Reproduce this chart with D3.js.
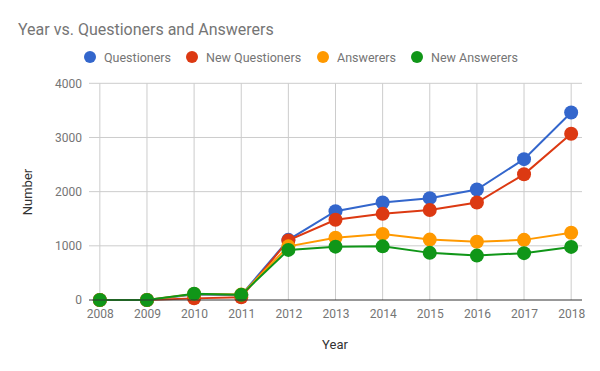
<!DOCTYPE html>
<html><head><meta charset="utf-8">
<script src="https://cdn.jsdelivr.net/npm/d3@7"></script>
<style>body{margin:0;background:#fff;font-family:Roboto,Arial,sans-serif;}</style>
</head><body><svg id="c" width="600" height="371"></svg>
<script>
const years = [2008,2009,2010,2011,2012,2013,2014,2015,2016,2017,2018];
const questioners = [0,0,100,90,1110,1640,1800,1880,2040,2600,3460];
const newQuestioners = [0,0,30,50,1100,1480,1590,1660,1800,2320,3070];
const answerers = [0,0,110,100,990,1150,1220,1115,1075,1110,1240];
const newAnswerers = [0,0,115,95,925,985,990,870,820,865,980];
const seriesNames = ["Questioners","New Questioners","Answerers","New Answerers"];
const seriesColors = ["#3366cc","#dc3912","#ff9900","#109618"];
const yTicks = [0,1000,2000,3000,4000];

const series = [questioners,newQuestioners,answerers,newAnswerers];
const svg = d3.select("#c");
const L=89,R=582,T=83.3,B=300;
const x = d3.scaleLinear().domain([2007.77,2018.23]).range([L,R]);
const y = d3.scaleLinear().domain([0,4000]).range([B,T]);

svg.append("text").attr("x",18).attr("y",35).attr("font-size",16).attr("fill","#757575").text("Year vs. Questioners and Answerers");

// legend
const legX=[90,192,323,417];
seriesNames.forEach((n,i)=>{
  svg.append("circle").attr("cx",legX[i]).attr("cy",57).attr("r",6).attr("fill",seriesColors[i]);
  svg.append("text").attr("x",legX[i]+14).attr("y",61.5).attr("font-size",12.5).attr("fill","#757575").text(n);
});

// grid
const g = svg.append("g");
g.selectAll(".hg").data(yTicks.slice(1)).enter().append("line")
 .attr("x1",L).attr("x2",R).attr("y1",d=>y(d)).attr("y2",d=>y(d)).attr("stroke","#cccccc");
g.selectAll(".vg").data(years).enter().append("line")
 .attr("x1",d=>x(d)).attr("x2",d=>x(d)).attr("y1",T).attr("y2",B).attr("stroke","#cccccc");

// y axis labels
const ya = svg.append("g").attr("transform",`translate(${L},0)`).call(d3.axisLeft(y).tickValues(yTicks).tickFormat(d3.format("d")).tickSize(0).tickPadding(7));
ya.select(".domain").remove();
ya.selectAll("text").attr("font-size",12).attr("fill","#757575").attr("font-family","Roboto,Arial,sans-serif");
const xa = svg.append("g").attr("transform",`translate(0,${B})`).call(d3.axisBottom(x).tickValues(years).tickFormat(d3.format("d")).tickSize(0).tickPadding(9));
xa.select(".domain").remove();
xa.selectAll("text").attr("font-size",12).attr("fill","#757575").attr("font-family","Roboto,Arial,sans-serif");

svg.append("text").attr("x",335).attr("y",349).attr("text-anchor","middle").attr("font-size",13).attr("fill","#333").text("Year");
svg.append("text").attr("transform","translate(32,192) rotate(-90)").attr("text-anchor","middle").attr("font-size",13).attr("fill","#333").text("Number");

const line = d3.line().x((d,i)=>x(years[i])).y(d=>y(d));
series.forEach((s,i)=>{
  svg.append("path").attr("d",line(s)).attr("fill","none").attr("stroke",seriesColors[i]).attr("stroke-width",2);
  svg.selectAll(null).data(s).enter().append("circle").attr("cx",(d,j)=>x(years[j])).attr("cy",d=>y(d)).attr("r",7).attr("fill",seriesColors[i]);
});
svg.append("line").attr("x1",L).attr("x2",R).attr("y1",B).attr("y2",B).attr("stroke","#333").attr("stroke-width",1);
</script></body></html>
